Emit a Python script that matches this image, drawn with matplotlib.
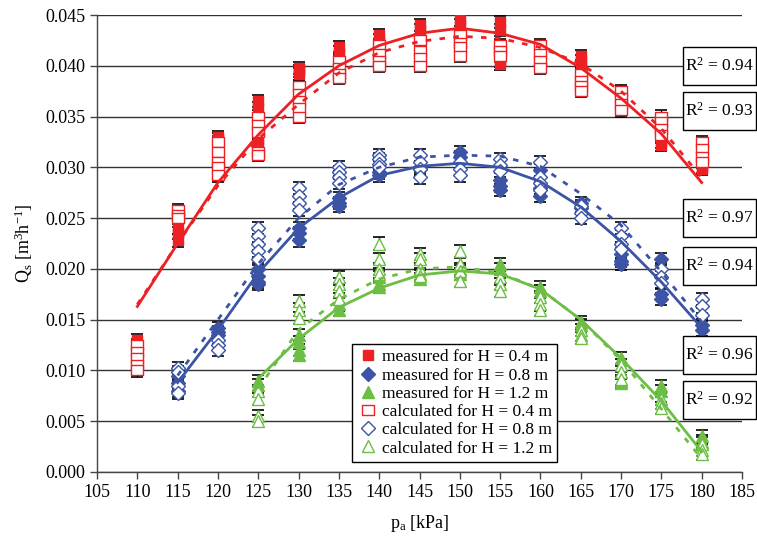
import matplotlib
matplotlib.use("Agg")
import matplotlib.pyplot as plt
from matplotlib.patches import Rectangle

plt.rcParams['font.family'] = ['Liberation Serif', 'DejaVu Serif']
plt.rcParams['mathtext.fontset'] = 'custom'
plt.rcParams['mathtext.rm'] = 'Liberation Serif'
plt.rcParams['mathtext.it'] = 'Liberation Serif:italic'

RED = '#ED2024'
BLUE = '#3B54A5'
GREEN = '#6CBE45'

# ---------------- data ----------------
x_red = [110, 115, 120, 125, 130, 135, 140, 145, 150, 155, 160, 165, 170, 175, 180]
meas_04 = [[0.0130], [0.0240, 0.0235, 0.0228], [0.0330, 0.0328],
           [0.0365, 0.0358, 0.0328, 0.0322], [0.0398, 0.0395, 0.0392],
           [0.0418, 0.0413, 0.0408], [0.0430, 0.0425, 0.0405],
           [0.0440, 0.0435], [0.0445, 0.0440], [0.0443, 0.0435, 0.0405, 0.0402],
           [0.0405, 0.0400], [0.0410, 0.0405, 0.0400], [0.0370, 0.0365, 0.0360],
           [0.0330, 0.0325, 0.0322], [0.0300, 0.0298]]
calc_04 = [[0.0125, 0.0118, 0.0112, 0.0105, 0.0100], [0.0258, 0.0253, 0.0250],
           [0.0325, 0.0315, 0.0305, 0.0300, 0.0292],
           [0.0350, 0.0342, 0.0335, 0.0315, 0.0312],
           [0.0380, 0.0372, 0.0365, 0.0358, 0.0350],
           [0.0405, 0.0398, 0.0392, 0.0388], [0.0420, 0.0412, 0.0405, 0.0400],
           [0.0425, 0.0415, 0.0408, 0.0400], [0.0430, 0.0422, 0.0418, 0.0410],
           [0.0420, 0.0415, 0.0410], [0.0420, 0.0412, 0.0405, 0.0398],
           [0.0392, 0.0385, 0.0380, 0.0375], [0.0375, 0.0368, 0.0362, 0.0356],
           [0.0350, 0.0345, 0.0338, 0.0332], [0.0325, 0.0318, 0.0310, 0.0305]]
fit_meas_04 = [0.0163, 0.0225, 0.0285, 0.0332, 0.0372, 0.0400, 0.0420, 0.0432,
               0.0437, 0.0432, 0.0421, 0.0398, 0.0368, 0.0333, 0.0285]
fit_calc_04 = [0.0165, 0.0225, 0.0282, 0.0328, 0.0362, 0.0393, 0.0413, 0.0424,
               0.0429, 0.0427, 0.0418, 0.0402, 0.0375, 0.0338, 0.0290]

x_blue = [115, 120, 125, 130, 135, 140, 145, 150, 155, 160, 165, 170, 175, 180]
meas_08 = [[0.0095, 0.0088, 0.0080], [0.0142, 0.0138, 0.0135],
           [0.0200, 0.0193, 0.0187, 0.0185], [0.0240, 0.0235, 0.0228],
           [0.0270, 0.0265, 0.0262], [0.0295, 0.0292], [0.0300, 0.0298],
           [0.0315, 0.0310], [0.0288, 0.0282, 0.0278], [0.0297, 0.0280, 0.0272],
           [0.0265, 0.0260], [0.0215, 0.0208, 0.0205], [0.0210, 0.0175, 0.0170],
           [0.0145, 0.0140]]
calc_08 = [[0.0102, 0.0098, 0.0085, 0.0078], [0.0130, 0.0125, 0.0120],
           [0.0240, 0.0232, 0.0225, 0.0218, 0.0210],
           [0.0280, 0.0272, 0.0265, 0.0258], [0.0300, 0.0295, 0.0290, 0.0285],
           [0.0312, 0.0308, 0.0303, 0.0300], [0.0312, 0.0305, 0.0298, 0.0290],
           [0.0305, 0.0298, 0.0292], [0.0308, 0.0302, 0.0296],
           [0.0305, 0.0290, 0.0285, 0.0278], [0.0262, 0.0255, 0.0250],
           [0.0240, 0.0232, 0.0225, 0.0220], [0.0200, 0.0192, 0.0186],
           [0.0170, 0.0163, 0.0155]]
fit_meas_08 = [0.0088, 0.0140, 0.0196, 0.0240, 0.0270, 0.0292, 0.0301, 0.0304,
               0.0300, 0.0286, 0.0261, 0.0227, 0.0187, 0.0142]
fit_calc_08 = [0.0095, 0.0150, 0.0205, 0.0250, 0.0283, 0.0300, 0.0310, 0.0312,
               0.0311, 0.0301, 0.0274, 0.0243, 0.0197, 0.0148]

x_green = [125, 130, 135, 140, 145, 150, 155, 160, 165, 170, 175, 180]
meas_12 = [[0.0090, 0.0086], [0.0135, 0.0128, 0.0120, 0.0115], [0.0165, 0.0160],
           [0.0192, 0.0185, 0.0182], [0.0200, 0.0195, 0.0190], [0.0200, 0.0195],
           [0.0205, 0.0200], [0.0182, 0.0178], [0.0148, 0.0145],
           [0.0112, 0.0090, 0.0088], [0.0085, 0.0080], [0.0035, 0.0030]]
calc_12 = [[0.0080, 0.0072, 0.0055, 0.0050], [0.0168, 0.0160, 0.0152],
           [0.0192, 0.0185, 0.0178, 0.0170], [0.0225, 0.0210, 0.0200, 0.0195],
           [0.0215, 0.0210, 0.0200, 0.0193], [0.0218, 0.0205, 0.0198, 0.0188],
           [0.0192, 0.0185, 0.0178], [0.0172, 0.0165, 0.0160],
           [0.0140, 0.0135, 0.0132], [0.0105, 0.0098, 0.0092],
           [0.0072, 0.0068, 0.0063], [0.0028, 0.0022, 0.0018]]
fit_meas_12 = [0.0092, 0.0131, 0.0162, 0.0181, 0.0194, 0.0198, 0.0195, 0.0180,
               0.0150, 0.0112, 0.0070, 0.0020]
fit_calc_12 = [0.0082, 0.0140, 0.0170, 0.0190, 0.0200, 0.0202, 0.0196, 0.0180,
               0.0150, 0.0110, 0.0062, 0.0013]

r2_labels = ['0.94', '0.93', '0.97', '0.94', '0.96', '0.92']
yerr_val = 0.0006

x_ticks = list(range(105, 190, 5))
y_ticks = [0.000, 0.005, 0.010, 0.015, 0.020, 0.025, 0.030, 0.035, 0.040, 0.045]

# ---------------- figure ----------------
W, H = 757, 538
fig = plt.figure(figsize=(W / 100, H / 100), dpi=100)
ax = fig.add_axes([97 / W, 1 - 472 / H, (742 - 97) / W, (472 - 15) / H])

rect_marker = [(-1.25, -1), (1.25, -1), (1.25, 1), (-1.25, 1), (-1.25, -1)]


def flat(xs, groups):
    xx, yy = [], []
    for xv, g in zip(xs, groups):
        for v in g:
            xx.append(xv)
            yy.append(v)
    return xx, yy


series = [
    (x_red, meas_04, 's', RED, True, 7.5, 'measured for H = 0.4 m'),
    (x_blue, meas_08, 'D', BLUE, True, 7, 'measured for H = 0.8 m'),
    (x_green, meas_12, '^', GREEN, True, 9, 'measured for H = 1.2 m'),
    (x_red, calc_04, rect_marker, RED, False, 9, 'calculated for H = 0.4 m'),
    (x_blue, calc_08, 'D', BLUE, False, 7, 'calculated for H = 0.8 m'),
    (x_green, calc_12, '^', GREEN, False, 9, 'calculated for H = 1.2 m'),
]

handles = []
for i, (xs, grp, mk, col, filled, ms, lab) in enumerate(series):
    xx, yy = flat(xs, grp)
    ax.errorbar(xx, yy, yerr=yerr_val, fmt='none', ecolor='black',
                elinewidth=1, capsize=4, capthick=1.2, zorder=2)
    h, = ax.plot(xx, yy, linestyle='none', marker=mk, markersize=ms,
                 markerfacecolor=col if filled else 'white',
                 markeredgecolor=col, markeredgewidth=1.0,
                 zorder=3 + i, label=lab)
    handles.append(h)

ax.plot(x_red, fit_meas_04, color=RED, lw=2, zorder=10)
ax.plot(x_red, fit_calc_04, color=RED, lw=2, ls=(0, (2, 3)), zorder=10)
ax.plot(x_blue, fit_meas_08, color=BLUE, lw=2, zorder=10)
ax.plot(x_blue, fit_calc_08, color=BLUE, lw=2, ls=(0, (2, 3)), zorder=10)
ax.plot(x_green, fit_meas_12, color=GREEN, lw=2, zorder=10)
ax.plot(x_green, fit_calc_12, color=GREEN, lw=2, ls=(0, (2, 3)), zorder=10)

ax.set_xlim(105, 185)
ax.set_ylim(0, 0.045)
ax.set_xticks(x_ticks)
ax.set_yticks(y_ticks)
ax.set_yticklabels([f'{v:.3f}' for v in y_ticks])
ax.tick_params(axis='both', labelsize=13, direction='out', length=5,
               width=1, color='#444444')
ax.yaxis.grid(True, color='#333333', lw=1)
ax.set_axisbelow(True)
for s in ['top', 'right']:
    ax.spines[s].set_visible(False)
for s in ['left', 'bottom']:
    ax.spines[s].set_color('#444444')
    ax.spines[s].set_linewidth(1)

ax.set_xlabel(r'p$_\mathrm{a}$ [kPa]', fontsize=13, labelpad=9)
ax.set_ylabel(r'Q$_\mathrm{s}$ [m$^3$h$^{-1}$]', fontsize=13, labelpad=7)

leg = ax.legend(handles=handles, loc='upper left',
                bbox_to_anchor=((352 - 97) / 645, (472 - 344) / 457),
                fontsize=12.5, frameon=True, fancybox=False, framealpha=1,
                edgecolor='black', borderpad=0.3, labelspacing=0.12,
                handletextpad=0.2, handlelength=1.2, borderaxespad=0)
leg.get_frame().set_linewidth(1)
leg.set_zorder(20)

# R^2 boxes
box_centers = [66, 111, 218, 266, 355, 400]
bx0, bx1, bh = 683, 756, 38
for lab, cy in zip(r2_labels, box_centers):
    rect = Rectangle((bx0 / W, 1 - (cy + bh / 2) / H), (bx1 - bx0) / W, bh / H,
                     transform=fig.transFigure, facecolor='white',
                     edgecolor='black', lw=1, zorder=30)
    fig.patches.append(rect)
    fig.text((bx0 + bx1) / 2 / W, 1 - cy / H, r'R$^2$ = ' + lab, ha='center',
             va='center', fontsize=12.5, zorder=31)

fig.savefig('out.png', dpi=100)
